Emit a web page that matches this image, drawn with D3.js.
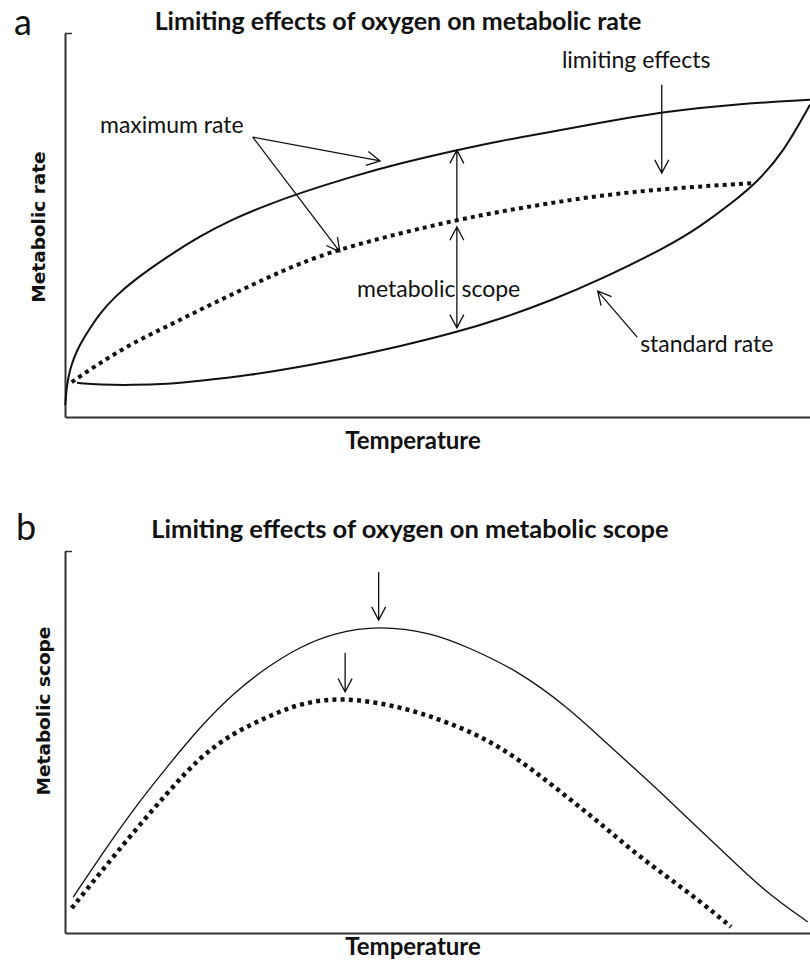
<!DOCTYPE html>
<html lang="en">
<head>
<meta charset="utf-8">
<script src="https://d3js.org/d3.v7.min.js"></script>
<style>
  body { margin: 0; background: #fff; }
  text { fill: #111; }
  .note { font-family: Lato, sans-serif; font-size: 23px; }
  .title { font-family: Lato, sans-serif; font-weight: bold; font-size: 25px; }
  .xlab { font-family: Lato, sans-serif; font-weight: bold; font-size: 24px; }
  .ylab { font-family: "DejaVu Sans", sans-serif; font-weight: bold; font-size: 18.5px; }
  .panel { font-family: Lato, sans-serif; font-size: 36px; }
  .axis path { stroke: #333; stroke-width: 2; }
  .axis line { stroke: #333; stroke-width: 1.5; }
  .arrow { stroke: #111; stroke-width: 1.3; fill: none; }
</style>
</head>
<body>
<div id="chart"></div>
<script>
// ---- panel a : metabolic rate vs temperature (arbitrary units 0-100) ----
var maxTemp = [0.04, 0.2, 0.67, 1.34, 2.0, 2.95, 4.7, 6.7, 9.1, 13.7, 18.1, 22.6, 27.1, 31.5, 38.3, 45.0, 52.6, 58.4, 65.1, 71.8, 79.9, 89.9, 100];
var maxRate = [3.1, 7.8, 12.5, 16.1, 18.8, 21.9, 27.1, 31.3, 35.4, 41.7, 47.1, 51.6, 55.2, 58.3, 62.5, 66.1, 69.5, 71.9, 74.2, 76.6, 79.4, 81.5, 82.6];

var stdTemp = [1.6, 4.7, 9.1, 13.7, 18.1, 24.8, 31.5, 38.3, 45.0, 52.6, 58.4, 65.1, 71.8, 80.8, 85.2, 89.7, 92.9, 96.4, 100];
var stdRate = [8.9, 8.4, 8.3, 8.6, 9.4, 10.9, 13.0, 15.6, 18.4, 22.1, 25.5, 30.2, 35.7, 44.3, 49.5, 56.0, 61.2, 68.8, 81.3];

var limTemp = [0.9, 4.7, 9.1, 13.7, 18.1, 22.6, 27.1, 31.5, 36.5, 45.0, 52.6, 58.4, 65.1, 71.8, 80.8, 92.3];
var limRate = [9.1, 14.1, 19.3, 23.6, 27.9, 32.1, 36.2, 40.0, 43.5, 47.9, 51.3, 53.5, 55.7, 57.7, 59.5, 60.9];

// ---- panel b : metabolic scope vs temperature ----
var scopeTemp = [1.1, 4.7, 9.1, 13.7, 18.1, 22.6, 27.1, 31.5, 36.0, 42.1, 49.4, 54.0, 60.7, 67.4, 71.8, 76.2, 80.8, 85.2, 89.7, 94.2, 99.7];
var scopeVal  = [9.4, 19.9, 32.2, 43.5, 53.9, 62.8, 69.6, 74.9, 78.5, 80.6, 78.5, 74.9, 68.8, 59.2, 51.3, 43.5, 35.3, 27.0, 18.8, 10.5, 2.9];

var limScopeTemp = [0.9, 4.7, 9.1, 13.7, 18.1, 22.6, 27.1, 31.5, 37.6, 45.0, 49.4, 54.0, 58.4, 62.8, 67.4, 71.8, 76.2, 80.8, 85.2, 89.4];
var limScopeVal  = [6.5, 15.7, 26.2, 36.6, 46.1, 52.4, 56.5, 60.2, 61.8, 59.2, 56.5, 53.1, 48.7, 42.7, 35.6, 28.8, 21.4, 14.7, 8.4, 1.6];

// annotation arrows, [t1, v1, t2, v2, heads]
var arrowsA = [
  [25.2, 72.9, 42.3, 66.7, 'end'],
  [25.2, 72.9, 36.9, 43.0, 'end'],
  [52.6, 51.3, 52.6, 69.5, 'end'],
  [52.6, 49.5, 52.6, 23.2, 'both'],
  [80.1, 86.5, 80.1, 63.5, 'end'],
  [76.8, 20.8, 71.5, 32.8, 'end']
];
var arrowsB = [
  [42.1, 94.5, 42.1, 81.9, 'end'],
  [37.6, 73.3, 37.6, 63.1, 'end']
];
// annotation labels, [text, t, v]
var notesA = [
  ['maximum rate', 4.7, 74.0],
  ['limiting effects', 66.7, 90.9],
  ['metabolic scope', 39.2, 31.3],
  ['standard rate', 77.2, 16.9]
];

var width = 810;
var height = 962;

var svg = d3.select('#chart')
  .append('svg')
  .attr('width', width)
  .attr('height', height);

var xA = d3.scaleLinear().domain([0, 100]).range([65, 810]);
var yA = d3.scaleLinear().domain([0, 100]).range([417, 33]);
var xB = d3.scaleLinear().domain([0, 100]).range([65, 810]);
var yB = d3.scaleLinear().domain([0, 100]).range([933, 551]);

function drawAxes(x, y) {
  svg.append('g')
    .attr('class', 'axis')
    .attr('transform', 'translate(' + x.range()[0] + ',0)')
    .call(d3.axisLeft(y).tickValues([100]).tickSizeInner(-7).tickSizeOuter(0).tickFormat(''));
  svg.append('g')
    .attr('class', 'axis')
    .attr('transform', 'translate(0,' + y.range()[0] + ')')
    .call(d3.axisBottom(x).tickValues([]).tickSizeOuter(0));
}

function drawCurve(x, y, ts, vs, dotted, w) {
  var line = d3.line()
    .x(function (d) { return x(d[0]); })
    .y(function (d) { return y(d[1]); })
    .curve(d3.curveBasis);
  var path = svg.append('path')
    .datum(d3.zip(ts, vs))
    .attr('d', line)
    .attr('fill', 'none')
    .attr('stroke', '#111')
    .attr('stroke-width', w);
  if (dotted) {
    path.attr('stroke-dasharray', '4 4.2');
  }
}

function head(x1, y1, x2, y2) {
  var a = Math.atan2(y2 - y1, x2 - x1);
  var len = 15, spread = Math.PI / 6.5;
  return 'M' + (x2 - len * Math.cos(a - spread)) + ',' + (y2 - len * Math.sin(a - spread)) +
    'L' + x2 + ',' + y2 +
    'L' + (x2 - len * Math.cos(a + spread)) + ',' + (y2 - len * Math.sin(a + spread));
}

function drawArrows(x, y, list) {
  list.forEach(function (d) {
    var x1 = x(d[0]), y1 = y(d[1]), x2 = x(d[2]), y2 = y(d[3]);
    var p = 'M' + x1 + ',' + y1 + 'L' + x2 + ',' + y2 + head(x1, y1, x2, y2);
    if (d[4] === 'both') p += head(x2, y2, x1, y1);
    svg.append('path').attr('class', 'arrow').attr('d', p);
  });
}

// ---------- panel a ----------
drawAxes(xA, yA);
drawCurve(xA, yA, maxTemp, maxRate, false, 2);
drawCurve(xA, yA, stdTemp, stdRate, false, 2);
drawCurve(xA, yA, limTemp, limRate, true, 4);
drawArrows(xA, yA, arrowsA);

svg.selectAll('.noteA')
  .data(notesA)
  .enter()
  .append('text')
  .attr('class', 'note')
  .attr('x', function (d) { return xA(d[1]); })
  .attr('y', function (d) { return yA(d[2]); })
  .text(function (d) { return d[0]; });

svg.append('text').attr('class', 'panel').attr('x', 14).attr('y', 35).text('a');
svg.append('text').attr('class', 'title').attr('x', 398).attr('y', 30)
  .attr('text-anchor', 'middle').text('Limiting effects of oxygen on metabolic rate');
svg.append('text').attr('class', 'xlab').attr('x', 413).attr('y', 449)
  .attr('text-anchor', 'middle').text('Temperature');
svg.append('text').attr('class', 'ylab')
  .attr('transform', 'translate(45,227) rotate(-90)')
  .attr('text-anchor', 'middle').text('Metabolic rate');

// ---------- panel b ----------
drawAxes(xB, yB);
drawCurve(xB, yB, scopeTemp, scopeVal, false, 1.3);
drawCurve(xB, yB, limScopeTemp, limScopeVal, true, 4.5);
drawArrows(xB, yB, arrowsB);

svg.append('text').attr('class', 'panel').attr('x', 16).attr('y', 540).text('b');
svg.append('text').attr('class', 'title').attr('x', 410).attr('y', 538)
  .style('font-size', '25.5px')
  .attr('text-anchor', 'middle').text('Limiting effects of oxygen on metabolic scope');
svg.append('text').attr('class', 'xlab').attr('x', 413).attr('y', 955)
  .attr('text-anchor', 'middle').text('Temperature');
svg.append('text').attr('class', 'ylab')
  .attr('transform', 'translate(50,711) rotate(-90)')
  .attr('text-anchor', 'middle').text('Metabolic scope');
</script>
</body>
</html>
